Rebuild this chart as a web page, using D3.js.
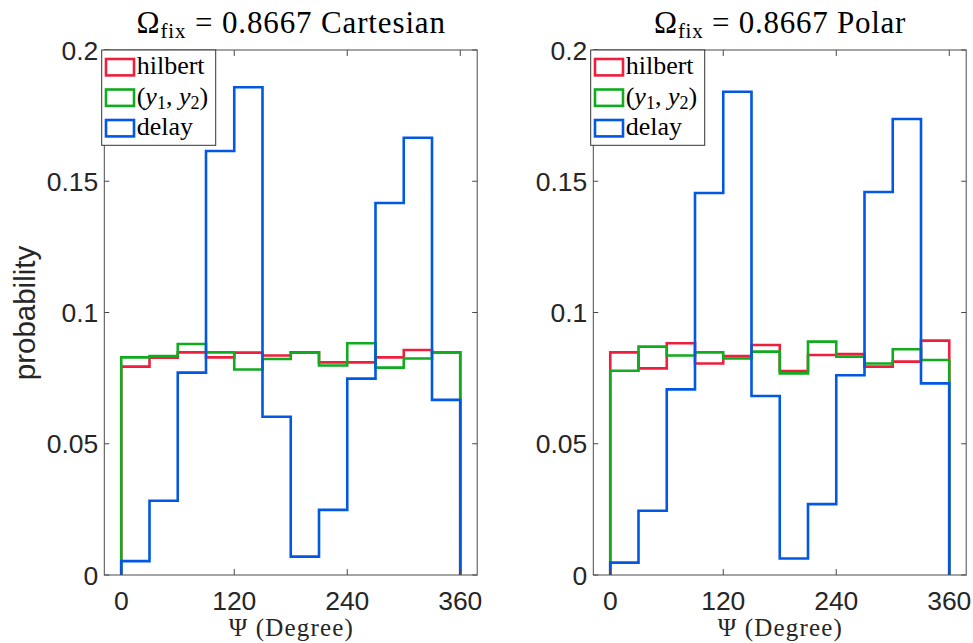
<!DOCTYPE html>
<html><head><meta charset="utf-8">
<script src="https://cdn.jsdelivr.net/npm/d3@7"></script>
<style>html,body{margin:0;padding:0;background:#fff;} svg{display:block;}</style>
</head><body><svg id="c" width="973" height="643"></svg>
<script>
// ---- data ----
const binEdges = [0,30,60,90,120,150,180,210,240,270,300,330,360];
const xTickValues = [0,120,240,360];
const xTickLabels = ["0","120","240","360"];
const yTickValues = [0,0.05,0.1,0.15,0.2];
const yTickLabels = ["0","0.05","0.1","0.15","0.2"];
const seriesNames = ["hilbert","(y1,y2)","delay"];
const panelTitles = ["Cartesian","Polar"];
const omegaFix = "0.8667";
const cartesianHilbert = [0.0794,0.0828,0.0848,0.0829,0.0847,0.0836,0.0848,0.0810,0.0810,0.0829,0.0857,0.0848];
const cartesianY1Y2   = [0.0829,0.0834,0.0880,0.0848,0.0783,0.0823,0.0847,0.0798,0.0883,0.0790,0.0825,0.0848];
const cartesianDelay  = [0.0053,0.0283,0.0771,0.1615,0.1858,0.0603,0.0070,0.0248,0.0748,0.1417,0.1666,0.0667];
const polarHilbert = [0.0848,0.0787,0.0883,0.0806,0.0834,0.0876,0.0777,0.0838,0.0842,0.0794,0.0813,0.0893];
const polarY1Y2   = [0.0778,0.0870,0.0836,0.0848,0.0825,0.0851,0.0768,0.0889,0.0832,0.0806,0.0860,0.0819];
const polarDelay  = [0.0047,0.0245,0.0707,0.1455,0.1841,0.0682,0.0063,0.0270,0.0761,0.1459,0.1737,0.0730];

// ---- style / layout ----
const colors = ["#ee1f3d","#10ab1f","#0257e3"];
const SERIF = "'Liberation Serif','DejaVu Serif',serif";
const SANS = "'Liberation Sans',Arial,Helvetica,sans-serif";
const axisColor = "#4a4a4a";
const textColor = "#262626";
const plotTop = 50, plotBottom = 575;
const panels = [
  {left:104.3, title:panelTitles[0], titleWidth:309, series:[cartesianHilbert,cartesianY1Y2,cartesianDelay], ylabel:true},
  {left:593.3, title:panelTitles[1], titleWidth:252, series:[polarHilbert,polarY1Y2,polarDelay], ylabel:false}
];
const pxPerDeg = 113/120;

const svg = d3.select("#c");
svg.append("rect").attr("width",973).attr("height",643).attr("fill","#fff");

function stairPoints(vals){
  const pts=[[binEdges[0],0]];
  vals.forEach((v,i)=>{pts.push([binEdges[i],v]);pts.push([binEdges[i+1],v]);});
  pts.push([binEdges[binEdges.length-1],0]);
  return pts;
}

function fitWidth(sel, target){
  const n = sel.text().length;
  const w = sel.node().getBBox().width;
  const ls = (target-w)/Math.max(1,n-1);
  sel.attr("letter-spacing", ls.toFixed(3));
  // compensate trailing spacing so text stays centred
  sel.attr("dx", (ls/2).toFixed(3));
}

panels.forEach(p=>{
  const x0 = -18, x1 = 378;
  const right = p.left + (x1-x0)*pxPerDeg;
  const x = d3.scaleLinear().domain([x0,x1]).range([p.left,right]);
  const y = d3.scaleLinear().domain([0,0.2]).range([plotBottom,plotTop]);
  const g = svg.append("g");
  const cx = (p.left+right)/2;

  // title
  const t = g.append("text").attr("x",cx).attr("y",33).attr("text-anchor","middle")
    .attr("font-family",SERIF).attr("font-size",31).attr("fill","#000");
  t.append("tspan").text("Ω");
  t.append("tspan").attr("font-size",21).attr("dy",5).text("fix");
  t.append("tspan").attr("dy",-5).text(" = " + omegaFix + " " + p.title);
  fitWidth(t, p.titleWidth);

  // stairs
  const line = d3.line().x(d=>x(d[0])).y(d=>y(d[1]));
  p.series.forEach((vals,i)=>{
    g.append("path").attr("d",line(stairPoints(vals))).attr("fill","none")
      .attr("stroke",colors[i]).attr("stroke-width",2.6).attr("stroke-linejoin","miter");
  });

  // box
  g.append("rect").attr("x",p.left).attr("y",plotTop).attr("width",right-p.left).attr("height",plotBottom-plotTop)
    .attr("fill","none").attr("stroke",axisColor).attr("stroke-width",1);

  // x ticks
  xTickValues.forEach((v,i)=>{
    g.append("line").attr("x1",x(v)).attr("x2",x(v)).attr("y1",plotBottom).attr("y2",plotBottom-6).attr("stroke",axisColor);
    g.append("line").attr("x1",x(v)).attr("x2",x(v)).attr("y1",plotTop).attr("y2",plotTop+6).attr("stroke",axisColor);
    g.append("text").attr("x",x(v)).attr("y",plotBottom+35).attr("text-anchor","middle")
      .attr("font-family",SANS).attr("font-size",26.5).attr("fill",textColor).text(xTickLabels[i]);
  });
  // y ticks
  yTickValues.forEach((v,i)=>{
    g.append("line").attr("x1",p.left).attr("x2",p.left+5).attr("y1",y(v)).attr("y2",y(v)).attr("stroke",axisColor);
    g.append("line").attr("x1",right).attr("x2",right-5).attr("y1",y(v)).attr("y2",y(v)).attr("stroke",axisColor);
    g.append("text").attr("x",p.left-6).attr("y",y(v)+9.5).attr("text-anchor","end")
      .attr("font-family",SANS).attr("font-size",26.5).attr("fill",textColor).text(yTickLabels[i]);
  });

  // x label
  const xl = g.append("text").attr("x",cx).attr("y",636).attr("text-anchor","middle")
    .attr("font-family",SERIF).attr("font-size",25).attr("fill",textColor).text("Ψ (Degree)");
  fitWidth(xl,124);

  // y label
  if(p.ylabel){
    g.append("text").attr("transform",`translate(35,313) rotate(-90)`).attr("text-anchor","middle")
      .attr("font-family",SANS).attr("font-size",29.5).attr("fill",textColor).text("probability");
  }

  // legend
  const lx = p.left-2.6, ly = 50, lw = 114, lh = 95.3;
  const lg = g.append("g");
  lg.append("rect").attr("x",lx).attr("y",ly).attr("width",lw).attr("height",lh)
    .attr("fill","#fff").attr("stroke","#333").attr("stroke-width",1);
  seriesNames.forEach((name,i)=>{
    const cy = 67.2 + i*30.5;
    lg.append("rect").attr("x",lx+4.3).attr("y",cy-8.2).attr("width",28).attr("height",16.4)
      .attr("fill","none").attr("stroke",colors[i]).attr("stroke-width",2.6);
    const tx = lg.append("text").attr("x",lx+35).attr("y",cy+7).attr("font-family",SERIF)
      .attr("font-size",26).attr("fill","#000");
    if(name==="(y1,y2)"){
      tx.append("tspan").text("(");
      tx.append("tspan").attr("font-style","italic").text("y");
      tx.append("tspan").attr("font-size",18).attr("dy",4).text("1");
      tx.append("tspan").attr("dy",-4).text(", ");
      tx.append("tspan").attr("font-style","italic").text("y");
      tx.append("tspan").attr("font-size",18).attr("dy",4).text("2");
      tx.append("tspan").attr("dy",-4).text(")");
    } else {
      tx.text(name);
    }
  });
});
</script>
</body></html>
